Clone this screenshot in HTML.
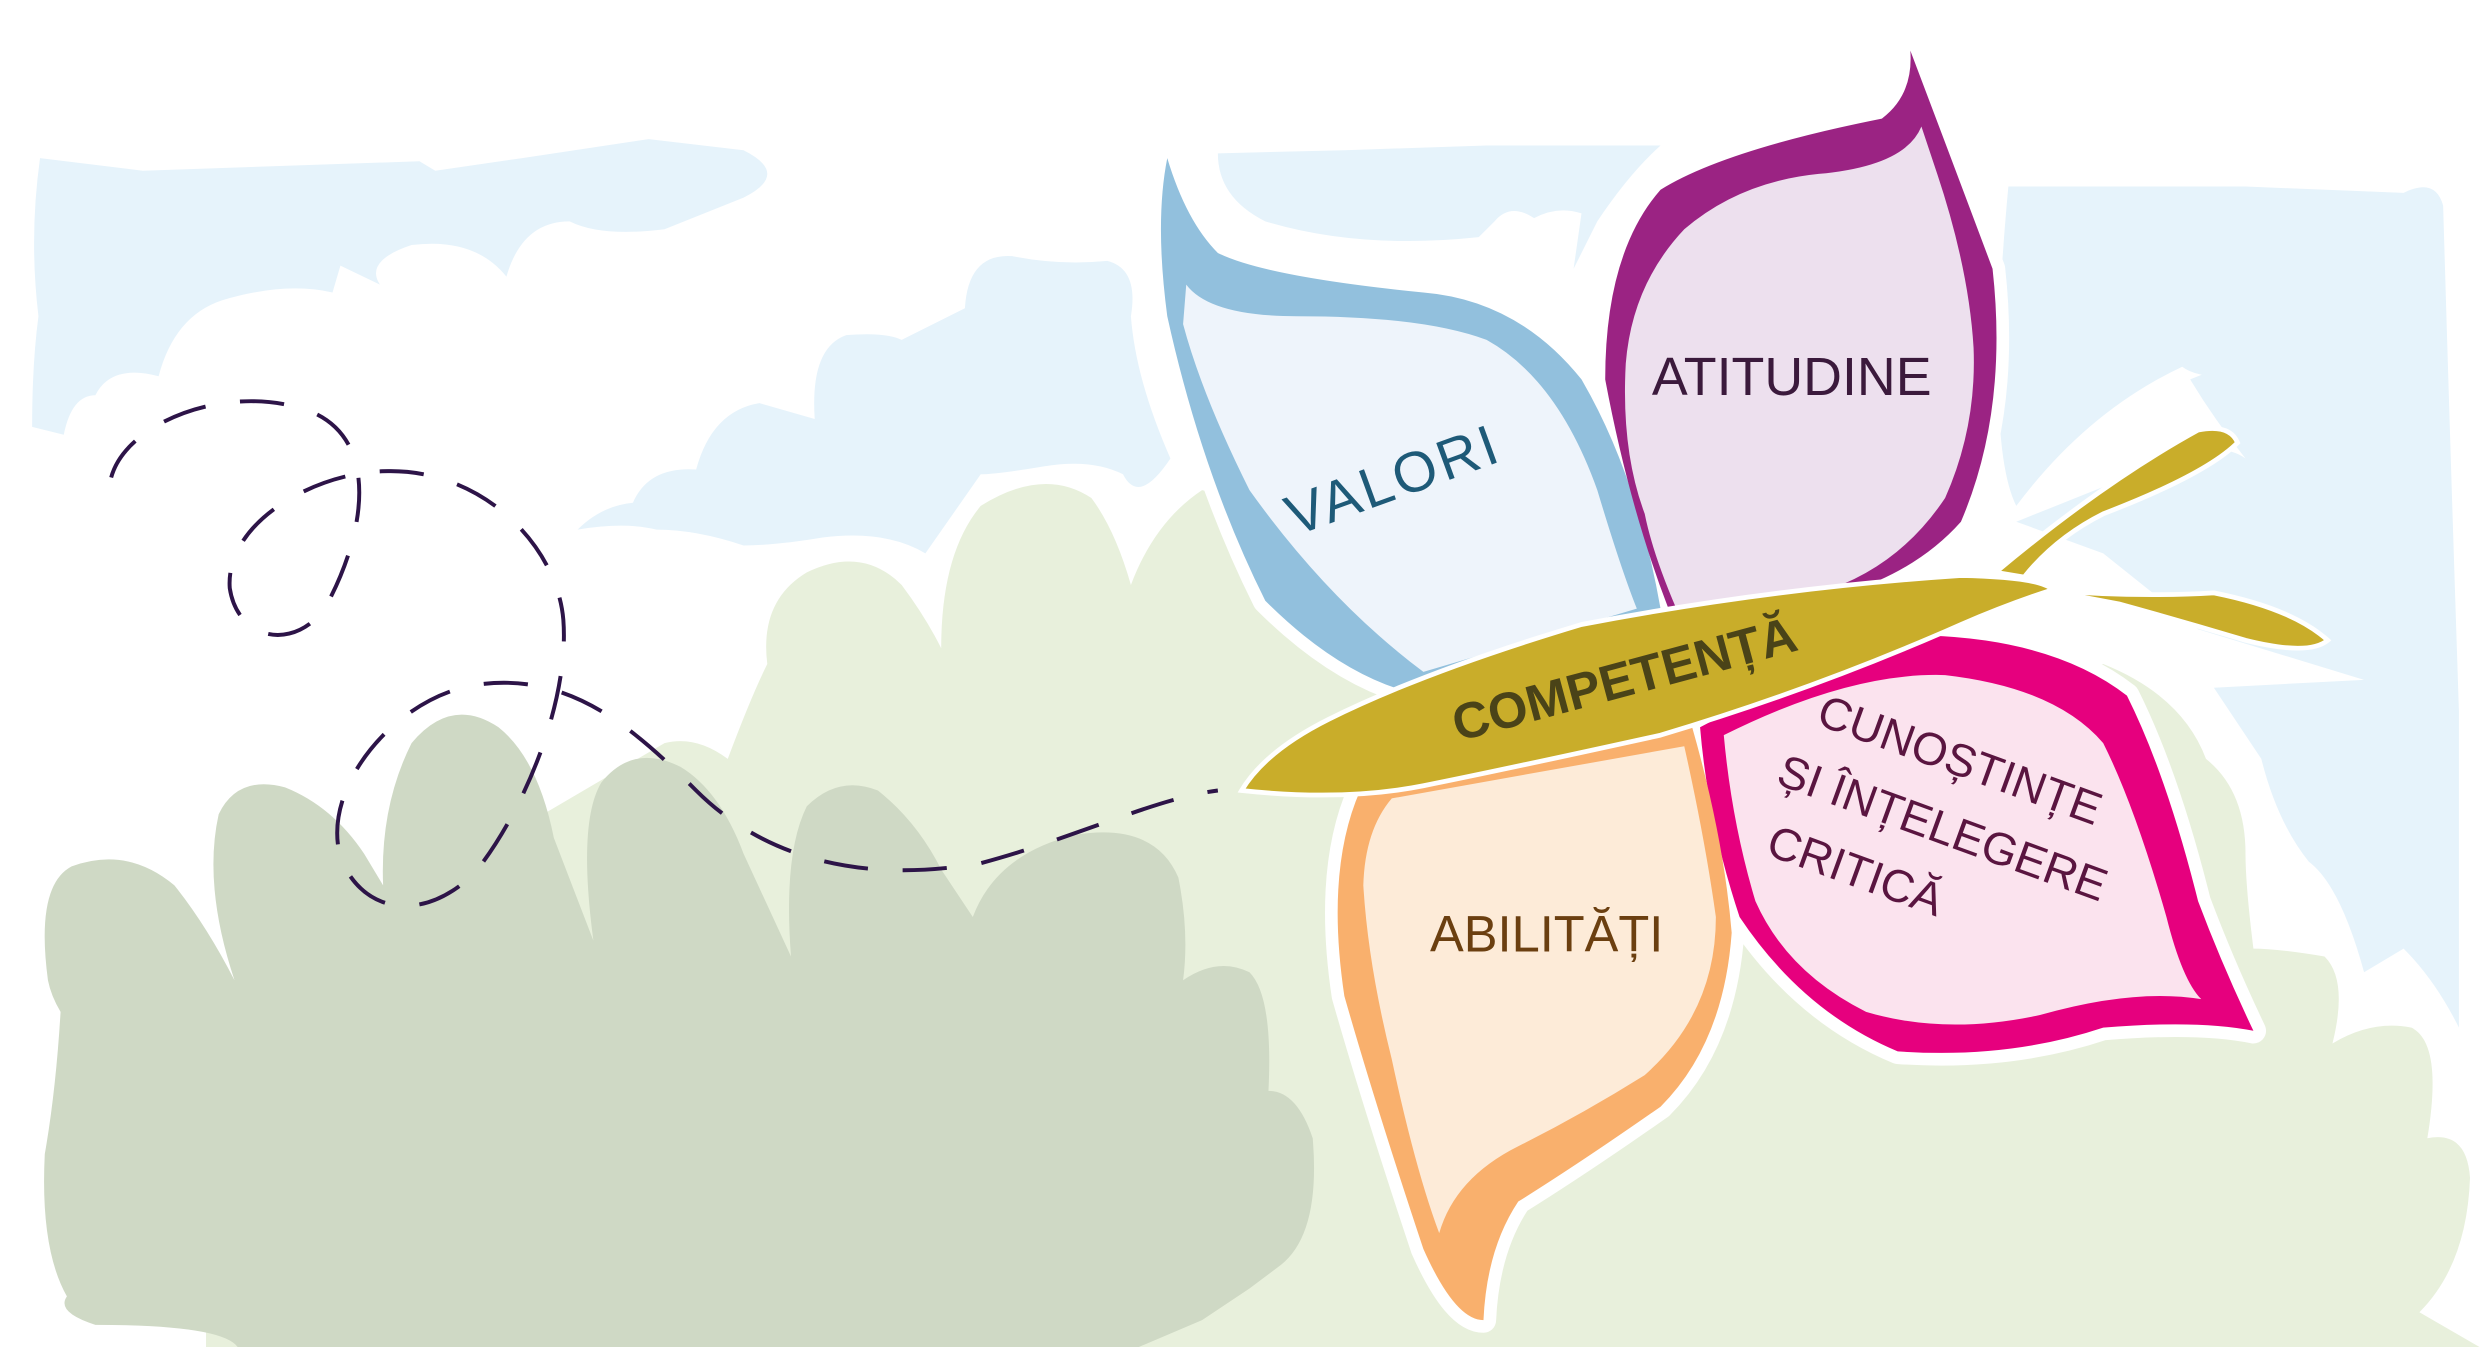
<!DOCTYPE html>
<html><head><meta charset="utf-8"><style>html,body{margin:0;padding:0;background:#fff}svg{display:block}</style></head><body>
<svg width="2480" height="1347" viewBox="0 0 1568 852" xmlns="http://www.w3.org/2000/svg" font-family="Liberation Sans, sans-serif">
<rect width="1568" height="852" fill="#fff"/>
<!-- sky clouds -->
<g fill="#e6f3fb">
<path d="M25,100 L90,108 L265,102 L275,108 L330,100 L410,88 L470,95 Q500,110 470,125 L420,145 Q380,150 360,140 Q330,140 320,175 Q300,150 260,155 Q230,165 240,180 L215,168 L210,185 Q180,178 140,190 Q110,200 100,238 Q70,230 60,250 Q45,250 40,275 L20,270 Q20,230 24,200 Q18,150 25,100 Z"/>
<path d="M365,335 Q380,320 400,318 Q410,295 440,297 Q450,260 480,255 L515,265 Q512,220 535,212 Q560,210 570,215 Q600,200 610,195 Q612,160 640,162 Q670,168 700,165 Q720,170 715,200 Q718,240 740,290 Q720,320 710,300 Q690,290 660,295 Q630,300 620,300 L585,350 Q560,335 520,340 Q490,345 470,345 Q440,335 415,335 Q395,330 365,335 Z"/>
<path d="M770,97 L850,95 L940,92 L1050,92 Q1030,110 1010,140 L995,170 L1000,135 Q985,130 970,138 Q955,128 945,140 L935,150 Q860,158 800,140 Q770,125 770,97 Z"/>
<path d="M1270,118 L1420,118 L1520,122 Q1540,112 1545,130 Q1550,300 1555,450 L1555,650 Q1540,620 1520,600 L1495,615 Q1480,560 1460,545 Q1440,520 1430,480 L1400,435 L1495,430 L1390,398 L1330,350 L1275,330 L1350,300 Q1400,275 1420,290 Q1400,265 1385,240 L1410,230 Q1420,210 1430,220 Q1440,200 1450,220 Q1455,175 1465,165 Q1480,160 1482,185 L1480,215 Q1500,210 1500,190 Q1495,160 1510,155 Q1525,155 1530,190 Q1545,200 1540,210 Q1500,215 1420,238 Q1390,240 1380,232 Q1320,260 1275,320 Q1255,280 1270,118 Z"/>
</g>
<!-- light green -->
<path fill="#e8f0dc" d="M420,470 Q440,465 460,480 Q475,440 485,420 Q480,380 510,362 Q545,345 570,370 Q585,390 595,410 Q595,350 620,320 Q660,295 690,315 Q705,335 715,370 Q730,330 760,310 L800,320 L1000,420 L1100,470 L1330,420 Q1380,440 1395,480 Q1420,500 1420,540 Q1420,560 1425,600 Q1440,600 1470,605 Q1485,620 1475,660 Q1500,645 1525,650 Q1545,660 1535,720 Q1560,715 1562,745 Q1560,800 1530,830 L1568,852 L130,852 L130,640 L420,470 Z"/>
<!-- dark bush -->
<path fill="#cfd9c5" d="M30,620 Q22,560 45,548 Q80,535 110,560 Q130,585 148,620 Q128,560 138,515 Q150,490 180,498 Q210,510 230,540 L242,560 Q240,510 260,470 Q285,440 315,460 Q340,480 350,530 L375,595 Q365,520 380,495 Q400,470 430,485 Q455,500 470,540 L500,605 Q495,540 510,510 Q530,490 555,500 Q580,520 595,550 Q605,565 615,580 Q630,540 680,528 Q730,520 745,555 Q752,590 748,620 Q770,605 790,615 Q805,630 802,690 Q820,690 830,720 Q835,780 810,800 L790,815 L760,835 L720,852 L150,852 Q140,838 60,838 Q35,830 42,820 Q25,790 28,730 Q35,690 38,640 Q32,630 30,620 Z"/>
<!-- white halos -->
<g fill="#fff" stroke="#fff" stroke-width="16" stroke-linejoin="round">
<path d="M738,100 Q750,140 770,160 Q800,175 900,185 Q960,190 1000,240 Q1035,300 1050,385 L900,440 Q850,430 800,380 Q760,300 738,200 Z"/>
<path d="M1208,32 Q1230,90 1260,170 Q1270,260 1240,330 Q1200,375 1120,385 L1055,385 Q1030,320 1015,240 Q1015,160 1050,120 Q1090,95 1190,75 Q1210,60 1208,32 Z"/>
<path d="M1075,460 Q1150,420 1220,402 Q1300,405 1345,440 Q1370,490 1390,570 Q1405,610 1425,652 Q1390,645 1330,650 Q1270,670 1200,665 Q1140,640 1100,580 Q1080,520 1075,460 Z"/>
<path d="M860,500 L1070,460 Q1090,530 1095,590 Q1090,660 1050,700 Q1000,735 960,760 Q940,790 938,835 Q920,835 900,790 Q870,700 850,630 Q838,550 860,500 Z"/>
</g>
<!-- blue petal -->
<path fill="#92c0dd" d="M738,100 Q750,140 770,160 Q800,175 900,185 Q960,190 1000,240 Q1035,300 1050,385 L900,440 Q850,430 800,380 Q760,300 738,200 Q730,140 738,100 Z"/>
<path fill="#eef4fb" d="M750,180 Q765,200 820,200 Q900,200 940,215 Q985,240 1010,310 Q1025,360 1035,385 L900,425 Q840,380 790,310 Q760,250 748,205 Z"/>
<!-- purple petal -->
<path fill="#9b2383" d="M1208,32 Q1230,90 1260,170 Q1270,260 1240,330 Q1200,375 1120,385 L1055,385 Q1030,320 1015,240 Q1015,160 1050,120 Q1090,95 1190,75 Q1210,60 1208,32 Z"/>
<path fill="#ede0ee" d="M1215,80 Q1225,110 1225,110 Q1245,170 1248,220 Q1250,270 1230,315 Q1200,360 1150,375 L1060,385 Q1045,350 1040,325 Q1025,285 1028,230 Q1032,180 1065,145 Q1100,115 1150,110 Q1205,105 1215,80 Z"/>
<!-- magenta petal -->
<path fill="#e6007e" d="M1075,460 Q1150,420 1220,402 Q1300,405 1345,440 Q1370,490 1390,570 Q1405,610 1425,652 Q1390,645 1330,650 Q1270,670 1200,665 Q1140,640 1100,580 Q1080,520 1075,460 Z"/>
<path fill="#fbe3ee" d="M1090,465 Q1170,425 1230,427 Q1300,435 1330,470 Q1350,510 1370,580 Q1380,620 1392,632 Q1350,625 1290,642 Q1230,655 1180,640 Q1130,615 1110,570 Q1095,520 1090,465 Z"/>
<!-- orange petal -->
<path fill="#f9b06d" d="M860,500 L1070,460 Q1090,530 1095,590 Q1090,660 1050,700 Q1000,735 960,760 Q940,790 938,835 Q920,835 900,790 Q870,700 850,630 Q838,550 860,500 Z"/>
<path fill="#fdebd8" d="M880,505 L1065,472 Q1078,530 1085,580 Q1085,640 1040,680 Q1000,705 960,725 Q920,745 910,780 Q895,740 880,670 Q865,610 862,560 Q863,525 880,505 Z"/>
<!-- olive leaf -->
<g fill="#c9ad2a" stroke="#fff" stroke-width="3">
<path d="M1262,362 Q1330,305 1390,272 Q1410,268 1415,280 Q1395,300 1330,325 Q1300,340 1280,365 Z"/>
<path d="M1292,373 Q1350,378 1400,375 Q1450,385 1472,405 Q1460,415 1420,405 Q1380,393 1340,382 Z"/>
<path d="M785,500 Q800,475 840,455 Q900,425 1000,395 Q1120,372 1240,364 Q1290,365 1298,373 Q1270,382 1240,395 Q1150,435 1050,465 Q950,487 900,497 Q850,507 785,500 Z"/>
</g>
<!-- dashed path -->
<path fill="none" stroke="#2d1448" stroke-width="2.5" stroke-dasharray="28 22" d="M70,302 C80,265 150,240 200,262 C240,282 230,340 205,385 C185,412 150,405 145,372 C142,330 200,298 245,298 C305,297 352,345 356,392 C360,445 330,515 300,552 C270,582 232,580 216,545 C200,500 250,440 302,433 C360,425 400,460 440,500 C480,540 540,560 620,546 C680,530 730,505 770,500"/>
<!-- labels -->
<text x="885" y="315" font-size="36" fill="#1e5a78" text-anchor="middle" transform="rotate(-20 885 315)" letter-spacing="2">VALORI</text>
<text x="1133" y="250" font-size="34" fill="#3b1a3c" text-anchor="middle">ATITUDINE</text>
<text x="1030" y="440" font-size="32" font-weight="bold" fill="#4a4318" text-anchor="middle" transform="rotate(-15 1030 440)">COMPETENȚĂ</text>
<g fill="#5a1540" font-size="29" text-anchor="middle">
<text x="1236" y="490" transform="rotate(20 1236 490)">CUNOȘTINȚE</text>
<text x="1225" y="533" transform="rotate(20 1225 533)">ȘI ÎNȚELEGERE</text>
<text x="1170" y="560" transform="rotate(20 1170 560)">CRITICĂ</text>
</g>
<text x="978" y="602" font-size="32" fill="#6b3f10" text-anchor="middle">ABILITĂȚI</text>
</svg>
</body></html>
